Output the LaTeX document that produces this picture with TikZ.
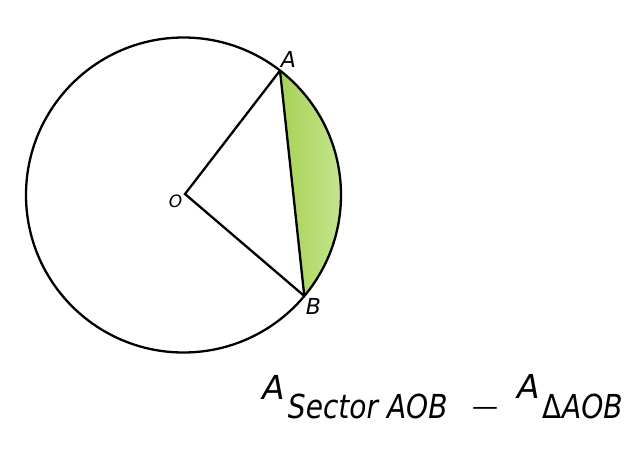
\documentclass[tikz,border=0pt]{standalone}
\usepackage{fontspec}
\setmainfont{DejaVu Sans}
\definecolor{segL}{HTML}{A6D256}
\definecolor{segR}{HTML}{C8E692}
\begin{document}
\begin{tikzpicture}[x=1pt,y=-1pt,line width=2.3pt,
  ptlabel/.style={font=\fontsize{22}{22}\selectfont\itshape,inner sep=0pt},
  bigtxt/.style={font=\fontsize{33}{33}\selectfont\itshape,inner sep=0pt,anchor=base west},
  subtxt/.style={font=\fontsize{33}{33}\selectfont\itshape,inner sep=0pt,anchor=base west,xscale=0.85}]
\useasboundingbox (0,0) rectangle (643,450);
\coordinate (C) at (183.5,195);
\coordinate (O) at (185,194);
\coordinate (A) at (280.0,70.6);
\coordinate (B) at (304.3,296.0);
% segment
\shade[left color=segL,right color=segR] (A) arc[start angle=-52.2,end angle=39.9,radius=157.5] -- cycle;
\draw (C) circle[radius=157.5];
\draw (A) -- (O) -- (B);
\draw (A) -- (B);
\node[ptlabel] (lA) at (288.5,59.5) {A};
\node[ptlabel] (lB) at (313.5,306.5) {B};
\node[ptlabel,font=\fontsize{17}{17}\selectfont\itshape] (lO) at (175.5,201.5) {O};
% formula
\node[bigtxt] (f1) at (261,399) {A};
\node[subtxt] (f2) at (287,418) {Sector AOB};
\node[inner sep=0pt,font=\fontsize{26}{26}\selectfont] (f3) at (485,411) {—};
\node[bigtxt] (f4) at (516,398) {A};
\node[subtxt] (f5) at (542,418) {{\upshape Δ}AOB};
\end{tikzpicture}
\end{document}
